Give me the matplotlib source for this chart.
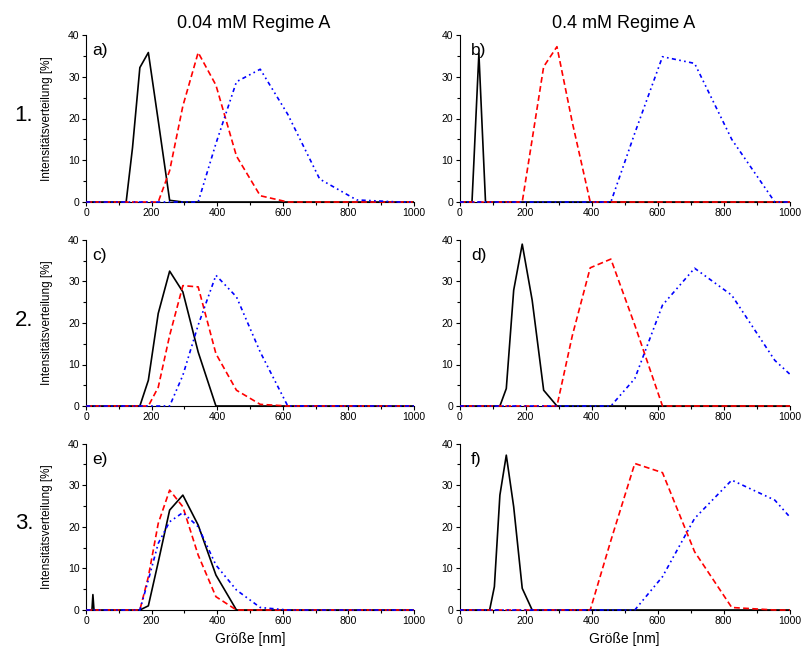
import matplotlib
matplotlib.use('Agg')
import matplotlib.pyplot as plt
from matplotlib.patches import Rectangle
from matplotlib.ticker import MultipleLocator

plt.rcParams['font.family'] = ['Liberation Sans', 'DejaVu Sans']

# ---------------- data (size in nm, intensity in %) ----------------
col_titles = ['0.04 mM Regime A', '0.4 mM Regime A']
row_labels = ['1.', '2.', '3.']
panel_letters = ['a)', 'b)', 'c)', 'd)', 'e)', 'f)']
x_ticks = [0, 200, 400, 600, 800, 1000]
y_ticks = [0, 10, 20, 30, 40]

# panel a
a_black_x = [122.4, 141.8, 164.2, 190.1, 220.2, 255.0, 295.3]
a_black_y = [0, 13, 32.2, 35.8, 19.5, 0.4, 0]
a_red_x = [220.2, 255.0, 295.3, 342.0, 396.1, 458.7, 531.2, 615.1]
a_red_y = [0, 7.5, 23, 35.8, 28, 11, 1.5, 0]
a_blue_x = [342.0, 396.1, 458.7, 531.2, 615.1, 712.4, 825.0, 955.4]
a_blue_y = [0, 14, 28.8, 31.8, 21, 5.5, 0.5, 0]
# panel b
b_black_x = [37.84, 43.82, 50.75, 58.77, 68.06, 78.82]
b_black_y = [0, 10, 22, 35.6, 19, 0]
b_red_x = [190.1, 220.2, 255.0, 295.3, 342.0, 396.1]
b_red_y = [0, 15, 32.4, 37.2, 19, 0]
b_blue_x = [458.7, 531.2, 615.1, 712.4, 825.0, 955.4]
b_blue_y = [0, 16.5, 34.8, 33.2, 15, 0]
# panel c
c_black_x = [164.2, 190.1, 220.2, 255.0, 295.3, 342.0, 396.1]
c_black_y = [0, 6.2, 22.3, 32.5, 27.5, 13, 0]
c_red_x = [190.1, 220.2, 255.0, 295.3, 342.0, 396.1, 458.7, 531.2, 615.1]
c_red_y = [0, 4.5, 17, 29, 28.7, 12.6, 3.8, 0.4, 0]
c_blue_x = [255.0, 295.3, 342.0, 396.1, 458.7, 531.2, 615.1]
c_blue_y = [0, 7.4, 19.5, 31.5, 26.3, 13, 0]
# panel d
d_black_x = [122.4, 141.8, 164.2, 190.1, 220.2, 255.0, 295.3]
d_black_y = [0, 4.2, 27.9, 39, 25.5, 3.8, 0]
d_red_x = [295.3, 342.0, 396.1, 458.7, 531.2, 615.1]
d_red_y = [0, 17, 33.3, 35.4, 19.5, 0]
d_blue_x = [458.7, 531.2, 615.1, 712.4, 825.0, 955.4, 1106]
d_blue_y = [0, 6.6, 24.3, 33.2, 26.7, 11, 0]
# panel e
e_black_x = [18.17, 21.04, 24.36, 164.2, 190.1, 220.2, 255.0, 295.3, 342.0, 396.1, 458.7]
e_black_y = [0, 3.7, 0, 0, 1.0, 11.5, 24, 27.6, 20.4, 8.4, 0]
e_red_x = [164.2, 190.1, 220.2, 255.0, 295.3, 342.0, 396.1, 458.7]
e_red_y = [0, 8, 20.8, 28.8, 24.8, 13.2, 3.2, 0]
e_blue_x = [164.2, 190.1, 220.2, 255.0, 295.3, 342.0, 396.1, 458.7, 531.2, 615.1]
e_blue_y = [0, 7.2, 16, 21.2, 23.4, 20, 10.8, 4.8, 0.6, 0]
# panel f
f_black_x = [91.28, 105.7, 122.4, 141.8, 164.2, 190.1, 220.2]
f_black_y = [0, 5.6, 27.6, 37.2, 24.8, 5.2, 0]
f_red_x = [396.1, 458.7, 531.2, 615.1, 712.4, 825.0, 955.4]
f_red_y = [0, 16.7, 35.2, 33, 14, 0.6, 0]
f_blue_x = [531.2, 615.1, 712.4, 825.0, 955.4, 1106, 1281]
f_blue_y = [0, 8, 22, 31.2, 26.4, 13, 0]

# lowest and highest size bins of the measurement (all zero)
bin_min, bin_max = 0.4, 1281

panels = [
    [(a_black_x, a_black_y), (a_red_x, a_red_y), (a_blue_x, a_blue_y)],
    [(b_black_x, b_black_y), (b_red_x, b_red_y), (b_blue_x, b_blue_y)],
    [(c_black_x, c_black_y), (c_red_x, c_red_y), (c_blue_x, c_blue_y)],
    [(d_black_x, d_black_y), (d_red_x, d_red_y), (d_blue_x, d_blue_y)],
    [(e_black_x, e_black_y), (e_red_x, e_red_y), (e_blue_x, e_blue_y)],
    [(f_black_x, f_black_y), (f_red_x, f_red_y), (f_blue_x, f_blue_y)],
]

# ---------------- styles / layout ----------------
styles = [
    dict(color='black', lw=1.2, ls='-'),
    dict(color='#ff0000', lw=1.2, ls=(0, (3.5, 2))),
    dict(color='#0000ff', lw=1.2, ls=(0, (2.5, 2, 1, 2, 1, 2))),
]

W, H = 802, 649
fig = plt.figure(figsize=(W / 100, H / 100), dpi=100)
col_px = [(86, 328), (459.5, 330)]
row_px = [(35, 202), (240, 406), (443.5, 610)]

for r in range(3):
    for c in range(2):
        k = r * 2 + c
        x0, w = col_px[c]
        y0, y1 = row_px[r]
        ax = fig.add_axes([x0 / W, 1 - y1 / H, w / W, (y1 - y0) / H])
        clip = Rectangle((0, -0.1), 1, 1.3, transform=ax.transAxes)
        for z, ((xs, ys), st) in enumerate(zip(panels[k], styles)):
            xx = [bin_min] + list(xs) + [bin_max]
            yy = [0] + list(ys) + [0]
            ln, = ax.plot(xx, yy, zorder=3 + z, **st)
            ln.set_clip_path(clip)
        ax.set_xlim(0, 1000)
        ax.set_ylim(0, 40)
        ax.set_xticks(x_ticks)
        ax.set_yticks(y_ticks)
        ax.xaxis.set_minor_locator(MultipleLocator(100))
        ax.yaxis.set_minor_locator(MultipleLocator(5))
        for s in ['top', 'right']:
            ax.spines[s].set_visible(False)
        for s in ['left', 'bottom']:
            ax.spines[s].set_linewidth(0.8)
        ax.tick_params(which='major', direction='out', length=3, width=0.8,
                       labelsize=7.5, pad=1.5)
        ax.tick_params(which='minor', direction='out', length=2, width=0.8)
        ax.text(0.02 if c == 0 else 0.035, 0.905, panel_letters[k],
                transform=ax.transAxes, fontsize=12.5, ha='left', va='center')
        if c == 0:
            ax.set_ylabel('Intensitätsverteilung [%]', fontsize=8.5)
            ax.yaxis.set_label_coords(-0.10, 0.5)
            fig.text(24 / W, 1 - ((y0 + y1) / 2 - 3) / H, row_labels[r], fontsize=16,
                     ha='center', va='center')
        if r == 2:
            ax.set_xlabel('Größe [nm]', fontsize=10)
            ax.xaxis.set_label_coords(0.5, -0.135)

fig.text(254 / W, 1 - 24 / H, col_titles[0], fontsize=13, ha='center', va='center')
fig.text(624 / W, 1 - 24 / H, col_titles[1], fontsize=13, ha='center', va='center')

fig.savefig('out.png', dpi=100)
